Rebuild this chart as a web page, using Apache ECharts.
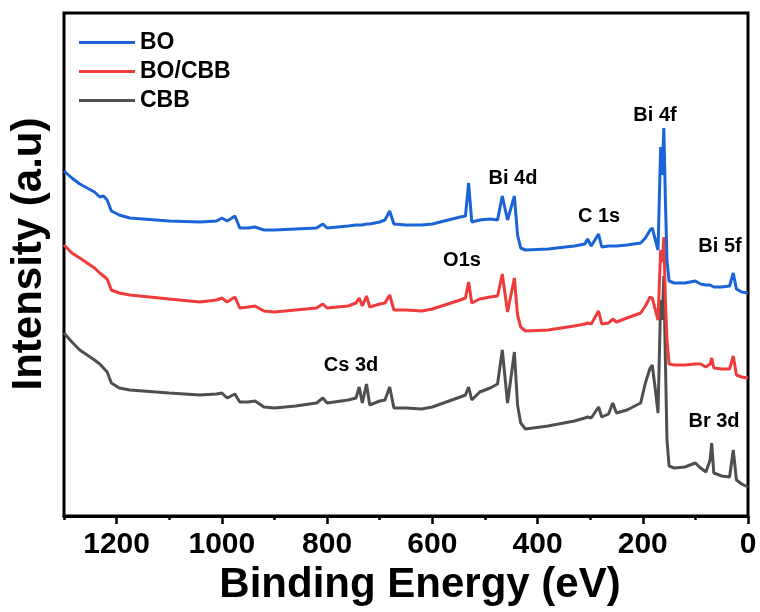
<!DOCTYPE html>
<html>
<head>
<meta charset="utf-8">
<script src="https://cdn.jsdelivr.net/npm/echarts@6/dist/echarts.min.js"></script>
<style>
  html, body { margin: 0; padding: 0; background: #fff; }
  #main { width: 760px; height: 612px; }
</style>
</head>
<body>
<div id="main"></div>
<script>
// binding energy (eV), shared by the three spectra
const energy = [1300, 1285, 1270, 1242, 1232, 1225, 1218, 1210, 1195, 1175, 1100, 1042, 1010, 1000, 990, 975, 966, 950, 937, 920,
  900, 860, 820, 808, 800, 760, 745, 739, 733, 725, 719, 700, 690, 681, 673, 650, 620, 600, 547, 537,
  531, 525, 510, 490, 476, 467, 457, 444, 438, 432, 423, 380, 330, 310, 305, 298, 284, 278, 265, 257,
  250, 230, 204, 195, 186, 182, 176, 171, 169, 166, 163, 160, 157, 154, 150, 140, 120, 100, 90, 80,
  72, 69, 65, 50, 35, 28, 22, 12, 0];

// intensity (a.u., offset spectra)
const boCounts = [348, 341, 335, 327, 322, 323, 319, 308, 304, 301, 298, 297, 298, 301, 298, 303, 291, 291, 292, 289,
  289, 290, 291, 295, 291, 293, 294, 294, 294, 295, 295, 297, 299, 308, 295, 294, 294, 295, 302, 303,
  336, 297, 299, 300, 299, 323, 299, 323, 284, 271, 269, 270, 273, 275, 280, 273, 285, 272, 273, 273,
  273, 274, 276, 281, 289, 291, 279, 269, 269, 372, 344, 391, 319, 259, 238, 236, 236, 238, 235, 234,
  234, 233, 232, 232, 233, 246, 230, 227, 226];

const boCbbCounts = [274, 266, 261, 251, 246, 243, 240, 229, 226, 224, 220, 217, 219, 221, 217, 222, 211, 212, 213, 208,
  207, 209, 211, 215, 211, 213, 216, 221, 213, 223, 212, 215, 216, 224, 209, 209, 208, 210, 219, 221,
  237, 216, 220, 222, 223, 245, 207, 241, 204, 192, 188, 189, 193, 195, 196, 195, 208, 195, 196, 200,
  197, 201, 206, 213, 222, 221, 209, 199, 201, 269, 257, 282, 219, 179, 155, 154, 154, 155, 155, 152,
  155, 161, 151, 150, 150, 163, 144, 142, 141];

const cbbCounts = [186, 177, 169, 159, 155, 151, 147, 136, 131, 129, 126, 124, 125, 126, 121, 125, 117, 117, 118, 112,
  111, 113, 116, 121, 116, 119, 121, 132, 116, 135, 114, 118, 119, 132, 111, 111, 110, 112, 122, 124,
  132, 119, 127, 131, 135, 169, 116, 167, 114, 96, 90, 93, 98, 101, 102, 101, 112, 102, 105, 116,
  106, 109, 116, 136, 151, 154, 129, 106, 104, 219, 199, 243, 159, 79, 53, 51, 52, 56, 51, 47,
  59, 76, 46, 43, 42, 69, 39, 35, 32];

const seriesNames = ['BO', 'BO/CBB', 'CBB'];
const seriesColors = ['#1a64d8', '#f03b3b', '#4f4f4f'];
const majorTicks = [1200, 1000, 800, 600, 400, 200, 0];
const minorTicks = [1300, 1100, 900, 700, 500, 300, 100];

const FONT = '"Liberation Sans", Arial, Helvetica, sans-serif';

const chart = echarts.init(document.getElementById('main'));

function pairs(vals) {
  return energy.map((e, i) => [e, vals[i]]);
}

// peak labels (text, centre x, centre y in px)
const peakLabels = [
  ['Bi 4f', 655, 115],
  ['Bi 4d', 513, 178],
  ['C 1s', 599, 216],
  ['O1s', 462, 260],
  ['Bi 5f', 720, 246],
  ['Cs 3d', 351, 365],
  ['Br 3d', 714, 421]
];

function textEl(text, x, y, font, rotation) {
  return {
    type: 'text',
    x: x,
    y: y,
    z: 100,
    rotation: rotation || 0,
    style: {
      text: text,
      font: font,
      fill: '#000',
      align: 'center',
      verticalAlign: 'middle',
      textAlign: 'center',
      textVerticalAlign: 'middle'
    }
  };
}

const graphics = peakLabels.map(p => textEl(p[0], p[1], p[2], 'bold 20px ' + FONT));
graphics.push(textEl('Intensity (a.u)', 29, 254, 'bold 42px ' + FONT, Math.PI / 2));
graphics.push(textEl('Binding Energy (eV)', 420, 585, 'bold 42px ' + FONT));

chart.setOption({
  animation: false,
  backgroundColor: '#fff',
  grid: {
    left: 64,
    right: 12,
    top: 13,
    bottom: 96,
    show: true,
    borderColor: '#000',
    borderWidth: 3,
    backgroundColor: 'transparent'
  },
  legend: {
    data: seriesNames,
    orient: 'vertical',
    left: 74,
    top: 26,
    icon: 'rect',
    itemWidth: 56,
    itemHeight: 3,
    itemGap: 6,
    textStyle: { fontSize: 23, fontWeight: 'bold', color: '#000', fontFamily: FONT }
  },
  xAxis: [
    {
      type: 'value',
      inverse: true,
      min: 0,
      max: 1300,
      position: 'bottom',
      splitLine: { show: false },
      axisLine: { onZero: false, lineStyle: { color: '#000', width: 3 } },
      axisTick: { customValues: majorTicks, length: 8, lineStyle: { color: '#000', width: 2.5 } },
      axisLabel: {
        customValues: majorTicks,
        formatter: v => String(v),
        margin: 14,
        fontSize: 30,
        fontWeight: 'bold',
        color: '#000',
        fontFamily: FONT
      }
    },
    {
      type: 'value',
      inverse: true,
      min: 0,
      max: 1300,
      position: 'bottom',
      splitLine: { show: false },
      axisLine: { show: false, onZero: false },
      axisTick: { customValues: minorTicks, length: 4, lineStyle: { color: '#000', width: 2.5 } },
      axisLabel: { show: false }
    }
  ],
  yAxis: {
    type: 'value',
    min: 3,
    max: 506,
    splitLine: { show: false },
    axisLine: { show: false },
    axisTick: { show: false },
    axisLabel: { show: false }
  },
  graphic: graphics,
  series: [
    // drawn bottom-up so the blue trace sits on top
    {
      name: 'CBB',
      type: 'line',
      data: pairs(cbbCounts),
      showSymbol: false,
      color: seriesColors[2],
      lineStyle: { width: 3, color: seriesColors[2] }
    },
    {
      name: 'BO/CBB',
      type: 'line',
      data: pairs(boCbbCounts),
      showSymbol: false,
      color: seriesColors[1],
      lineStyle: { width: 3, color: seriesColors[1] }
    },
    {
      name: 'BO',
      type: 'line',
      data: pairs(boCounts),
      showSymbol: false,
      color: seriesColors[0],
      lineStyle: { width: 3, color: seriesColors[0] }
    }
  ]
});

window.addEventListener('resize', function () {
  chart.resize();
});
</script>
</body>
</html>
